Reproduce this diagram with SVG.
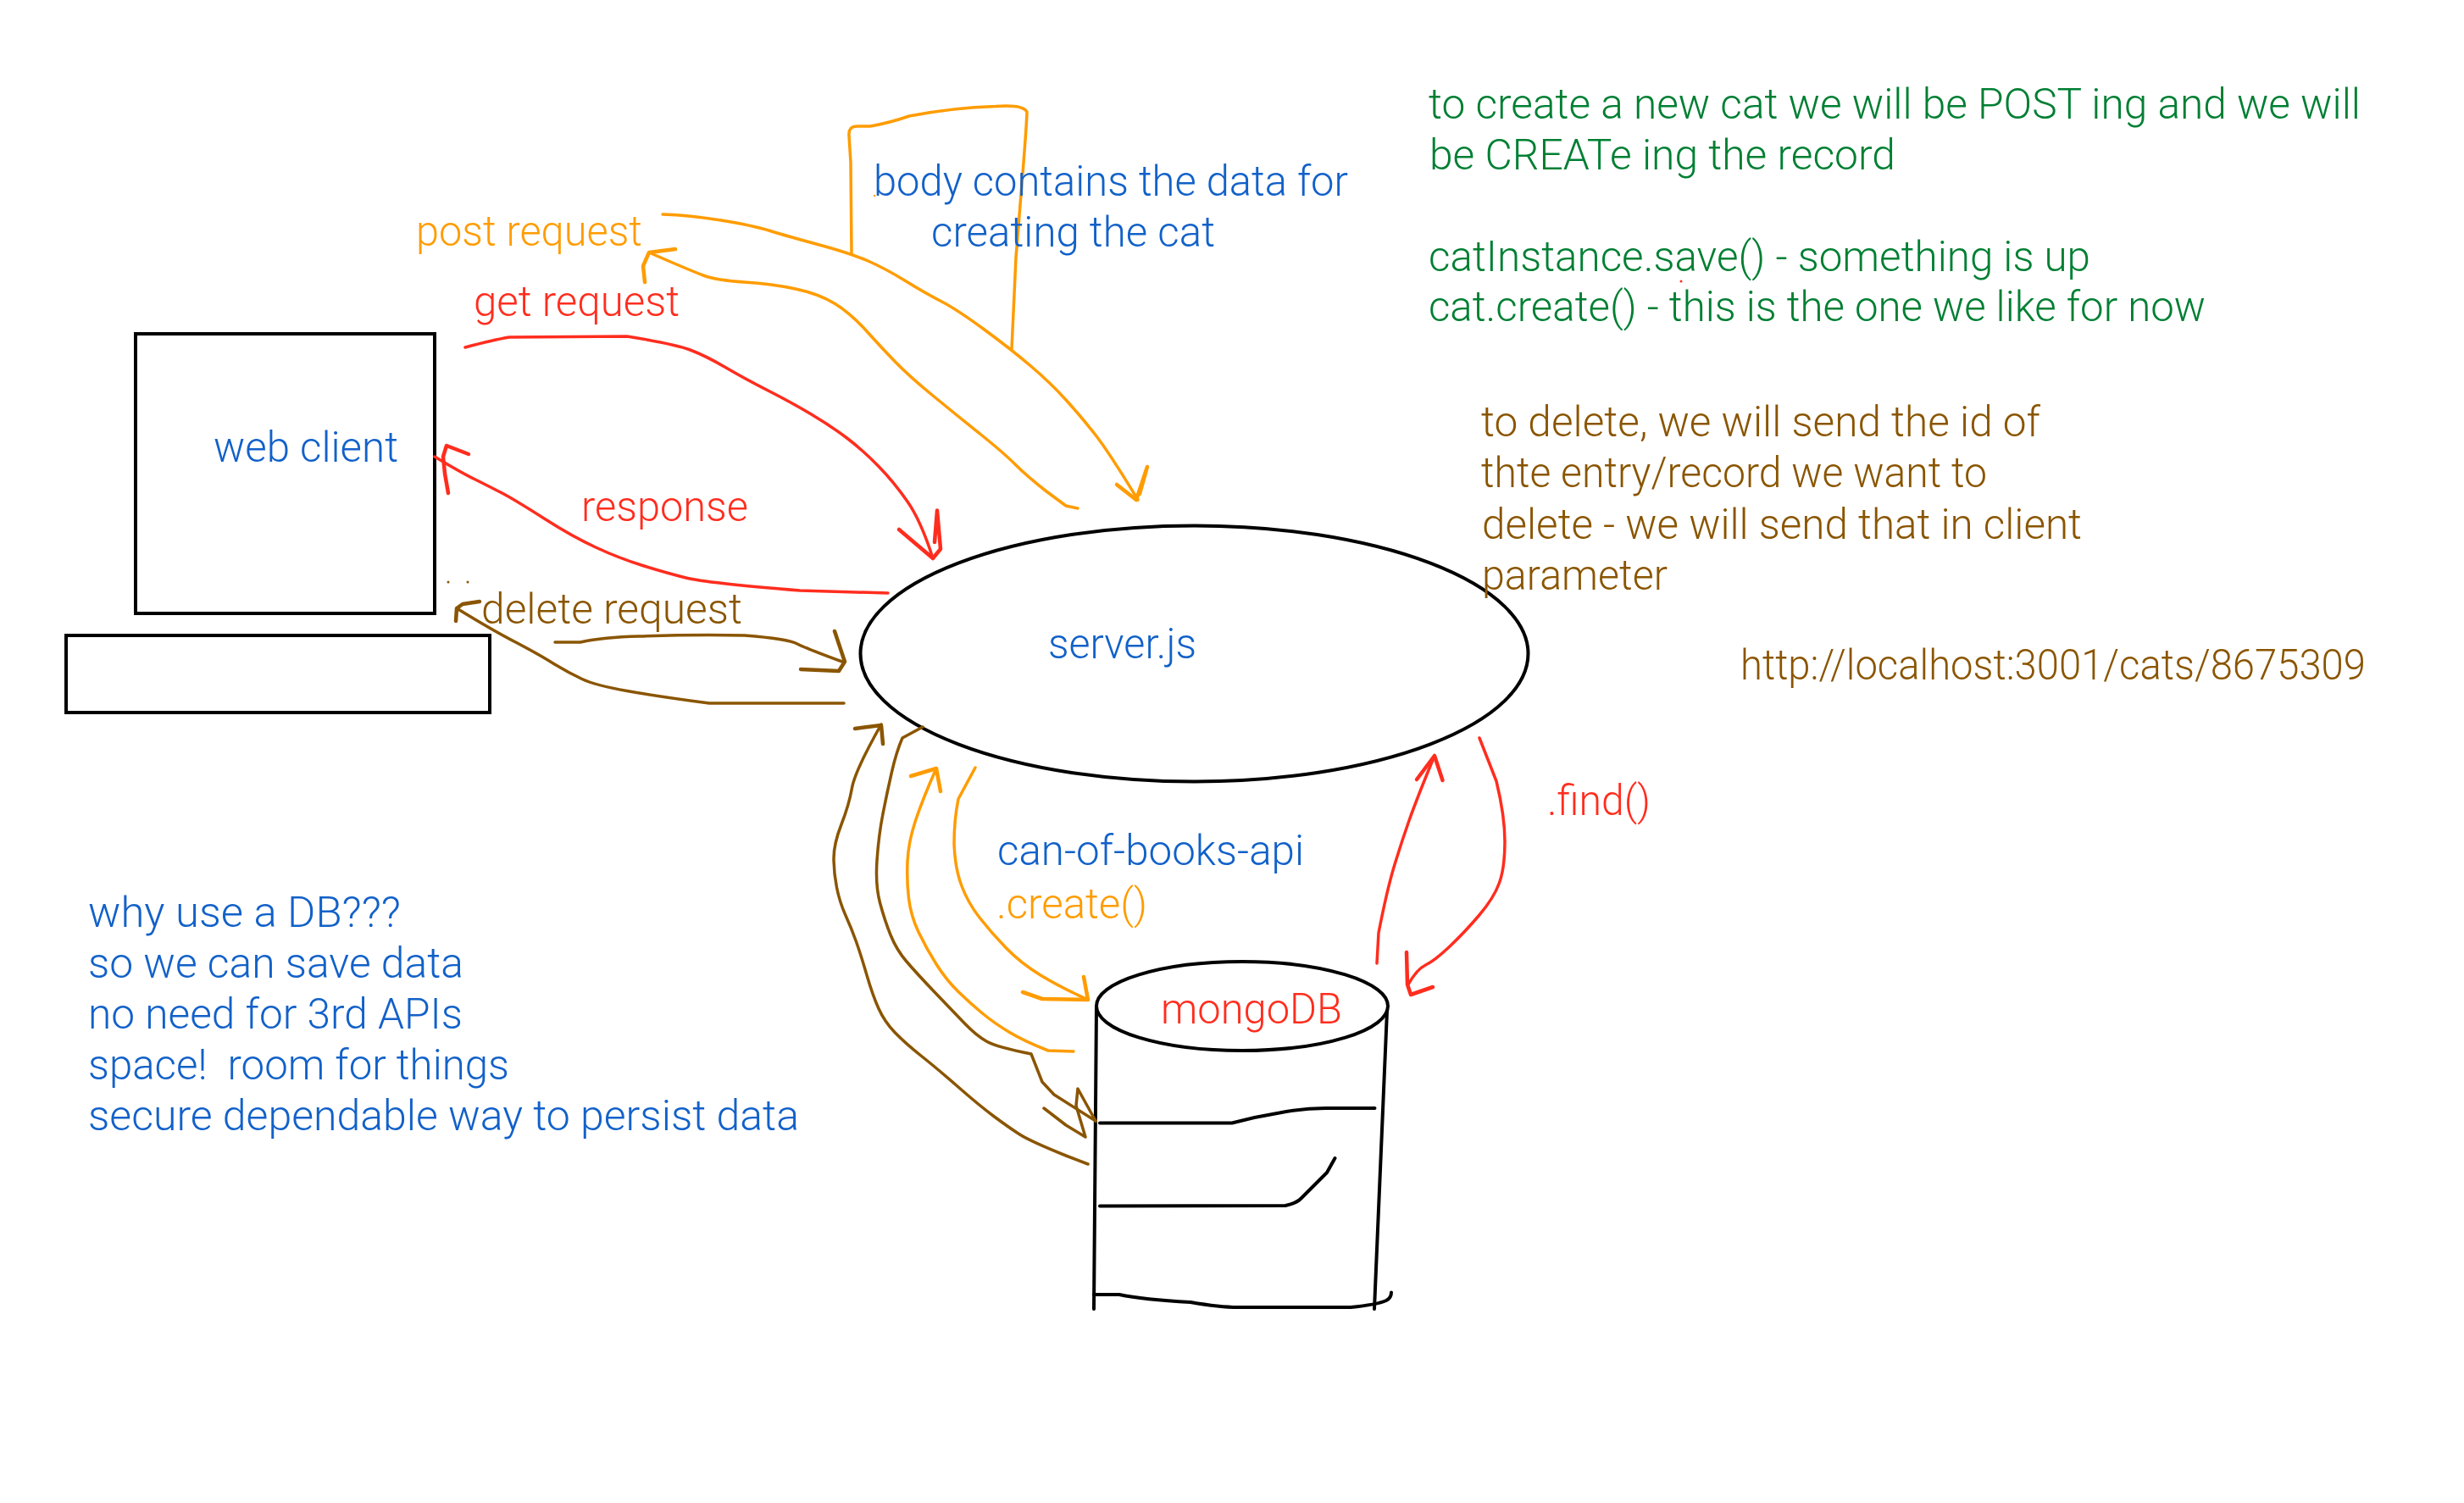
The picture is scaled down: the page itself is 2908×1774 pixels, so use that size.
<svg xmlns="http://www.w3.org/2000/svg" width="2908" height="1774" viewBox="0 0 2908 1774">
<style>
text{font-family:Roboto,"Liberation Sans",Arial,sans-serif;font-weight:300;font-size:50px}
.blue{fill:#1261c9}.orange{fill:#ff9c00}.red{fill:#ff2d1e}.green{fill:#007f33}.brown{fill:#8a5500}
.box{fill:none;stroke:#000;stroke-width:4}
.ink{fill:none;stroke:#000;stroke-width:4;stroke-linecap:round;stroke-linejoin:round}
.c path{fill:none;stroke-width:3.5;stroke-linecap:round;stroke-linejoin:round}
.c path.h{stroke-width:4.5}
.so{stroke:#ff9c00}.sr{stroke:#ff2d1e}.sb{stroke:#8a5500}
</style>
<rect width="2908" height="1774" fill="#fff"/>
<g id="web-client">
<rect class="box" x="160" y="394" width="353" height="330"/>
<rect class="box" x="78" y="750" width="500" height="91"/>
<text class="blue" x="252" y="545" textLength="218" lengthAdjust="spacingAndGlyphs">web client</text>
</g>
<g id="server">
<ellipse class="box" cx="1409.5" cy="771.5" rx="394" ry="151"/>
<text class="blue" x="1237" y="777" textLength="175" lengthAdjust="spacingAndGlyphs">server.js</text>
</g>
<g id="mongodb">
<ellipse class="ink" cx="1466" cy="1187.5" rx="172" ry="52.5"/>
<path class="ink" d="M1294 1188L1291 1545"/>
<path class="ink" d="M1637 1193L1622 1545"/>
<path class="ink" d="M1298 1325.5L1454 1325.5Q1482 1318 1510 1313.5Q1538 1308 1565 1308L1622.5 1308"/>
<path class="ink" d="M1298 1423.5L1517 1423Q1530 1420 1535 1415L1566 1384L1575.5 1367"/>
<path class="ink" d="M1291 1528L1321 1528Q1349 1534 1405 1537Q1440 1543 1461 1543L1594 1543Q1625 1540 1636 1535Q1642 1532 1642 1525.5"/>
<text class="red" x="1370" y="1208" textLength="214" lengthAdjust="spacingAndGlyphs">mongoDB</text>
</g>
<g id="connectors" class="c">
<path class="so" d="M782 253Q814 254 851 260Q888 266 909 272.5Q930 279 967 289Q1004 299 1024.5 308Q1045 317 1068.5 331.5Q1092 346 1110.5 355.5Q1129 365 1161 388.5Q1193 412 1216.5 432Q1240 452 1258.5 472.5Q1277 493 1293 513.5Q1309 534 1343 590"/>
<path class="so h" d="M1318 572L1341 590L1354 551L1345 583"/>
<path class="so" d="M1005 298L1004 192L1002 160Q1001 149 1012 149L1027 149Q1050 145 1073 137Q1125 127 1175 125.5Q1207 123 1212 132Q1212 140 1208 192L1199 304L1194 412"/>
<path class="so" d="M1272 600L1258 597L1235 580Q1212 562 1198 548Q1184 534 1156.5 512Q1129 490 1101 467Q1073 444 1057 427.5Q1041 411 1022.5 390.5Q1004 370 985.5 358.5Q967 347 939 341Q911 335 878.5 333Q846 331 830 325Q814 319 766 298"/>
<path class="so h" d="M797 294L766 298L759 314L761 333"/>
<path class="sr" d="M549 410Q583 401 601 398L740 397Q796 406 814.5 413Q833 420 856 433.5Q879 447 906.5 461Q934 475 957.5 489Q981 503 999.5 517Q1018 531 1036.5 550Q1055 569 1071 592Q1087 615 1101 659"/>
<path class="sr h" d="M1061 625L1101 659L1110 648L1106 602.5L1103 640"/>
<path class="sr" d="M1048 700L944 697Q833 688 809.5 682Q786 676 758.5 667.5Q731 659 703 646Q675 633 643 612.5Q611 592 594.5 583Q578 574.5 562 566.5Q546 559 513 539"/>
<path class="sr h" d="M529 582L525 559L523 539L527 526L553 536"/>
<path class="sb" d="M655 758L685 758Q712 752 754 751Q796 749.5 837 749.5L879 750Q930 754 941 760Q953 766 994 781"/>
<path class="sb h" d="M985 745L997 781L990 792L945 790"/>
<path class="sb" d="M996 830L837 830Q777 822 740 815.5Q703 809 687 801.5Q671 794 654.5 784Q638 773.5 610.5 759Q583 745 539 718"/>
<path class="sb h" d="M566 710L546 713L539 718L538 733"/>
<path class="sb" d="M1284 1374L1258 1364Q1216 1347 1203.5 1339Q1191 1331 1173.5 1318Q1156 1305 1131.5 1283.5Q1107 1262 1087.5 1246.5Q1068 1231 1056 1218.5Q1044 1206 1037 1190.5Q1030 1175 1023 1151Q1016 1127 1010.5 1111.5Q1005 1096 998 1080.5Q991 1065 987.5 1047.5Q984 1030 984 1013Q984 996 993 973Q1002 950 1005.5 930Q1009 910 1040 855"/>
<path class="sb h" d="M1009 860L1040 856L1042 878"/>
<path class="sb" d="M1089 858L1065 871Q1058 887 1052.5 911Q1047 935 1042 960.5Q1037 986 1035 1015.5Q1033 1045 1038.5 1065.5Q1044 1086 1051 1103.5Q1058 1121 1070 1135Q1082 1149 1103 1171Q1124 1193 1138.5 1208Q1153 1223 1165 1229.5Q1177 1236 1217 1244L1230 1277L1244 1292L1293 1323"/>
<path class="sb" d="M1293 1323L1272 1285L1270 1305L1281 1342L1258 1328L1232 1308"/>
<path class="so" d="M1267 1241L1237 1240Q1209 1229 1191.5 1218.5Q1174 1208 1160 1196.5Q1146 1185 1131.5 1171Q1117 1157 1105 1138Q1093 1119 1084 1100Q1075 1081 1072.5 1060.5Q1070 1040 1071 1017Q1072 994 1080.5 968.5Q1089 943 1105 907"/>
<path class="so h" d="M1075 916L1105 907L1110 934"/>
<path class="so" d="M1151 906L1131 943Q1126 968 1126 996Q1127 1024 1134.5 1044.5Q1142 1065 1156 1083Q1170 1101 1187.5 1119Q1205 1137 1228 1151Q1251 1165 1284 1180"/>
<path class="so h" d="M1207 1171L1230 1179L1284 1180L1279 1153"/>
<path class="sr" d="M1625 1137L1627 1101Q1637 1050 1645.5 1022Q1654 994 1663 968.5Q1672 943 1693 892"/>
<path class="sr h" d="M1672 920L1693 892L1702.5 921"/>
<path class="sr" d="M1746 871L1766 922Q1776 963 1776 993.5Q1776 1024 1769.5 1042Q1763 1060 1745.5 1080.5Q1728 1101 1710.5 1117.5Q1693 1134 1682.5 1139Q1672 1144 1662 1162"/>
<path class="sr h" d="M1660 1124L1661 1162L1665 1174L1691 1165"/>
</g>
<g id="marks">
<circle cx="529" cy="687" r="1.5" fill="#8a5500"/>
<circle cx="552" cy="687" r="1.5" fill="#8a5500"/>
<circle cx="1032" cy="231" r="1.2" fill="#ff9c00"/>
<circle cx="1984" cy="332" r="1.5" fill="#ff2d1e"/>
</g>
<g id="labels" transform="translate(-1 2)">
<text class="blue" x="1032" y="229" textLength="560" lengthAdjust="spacingAndGlyphs">body contains the data for</text>
<text class="blue" x="1100" y="289" textLength="335" lengthAdjust="spacingAndGlyphs">creating the cat</text>
<text class="orange" x="492" y="288" textLength="267" lengthAdjust="spacingAndGlyphs">post request</text>
<text class="red" x="560" y="371" textLength="243" lengthAdjust="spacingAndGlyphs">get request</text>
<text class="red" x="687" y="613" textLength="197" lengthAdjust="spacingAndGlyphs">response</text>
<text class="brown" x="569" y="734" textLength="308" lengthAdjust="spacingAndGlyphs">delete request</text>
<text class="blue" x="1178" y="1019" textLength="362" lengthAdjust="spacingAndGlyphs">can-of-books-api</text>
<text class="orange" x="1177" y="1082" textLength="178" lengthAdjust="spacingAndGlyphs">.create()</text>
<text class="red" x="1827" y="960" textLength="122" lengthAdjust="spacingAndGlyphs">.find()</text>
</g>
<g id="notes" transform="translate(0 2)">
<text class="blue" x="104" y="1092" textLength="369" lengthAdjust="spacingAndGlyphs">why use a DB???</text>
<text class="blue" x="104" y="1152" textLength="443" lengthAdjust="spacingAndGlyphs">so we can save data</text>
<text class="blue" x="104" y="1212" textLength="442" lengthAdjust="spacingAndGlyphs">no need for 3rd APIs</text>
<text class="blue" x="104" y="1272" textLength="497" lengthAdjust="spacingAndGlyphs" xml:space="preserve">space!  room for things</text>
<text class="blue" x="104" y="1332" textLength="839" lengthAdjust="spacingAndGlyphs">secure dependable way to persist data</text>
<text class="green" x="1686" y="138" textLength="1100" lengthAdjust="spacingAndGlyphs">to create a new cat we will be POST ing and we will</text>
<text class="green" x="1687" y="198" textLength="550" lengthAdjust="spacingAndGlyphs">be CREATe ing the record</text>
<text class="green" x="1686" y="318" textLength="781" lengthAdjust="spacingAndGlyphs">catInstance.save() - something is up</text>
<text class="green" x="1686" y="377" textLength="917" lengthAdjust="spacingAndGlyphs">cat.create() - this is the one we like for now</text>
<text class="brown" x="1748" y="513" textLength="660" lengthAdjust="spacingAndGlyphs">to delete, we will send the id of</text>
<text class="brown" x="1748" y="573" textLength="597" lengthAdjust="spacingAndGlyphs">thte entry/record we want to</text>
<text class="brown" x="1749" y="634" textLength="708" lengthAdjust="spacingAndGlyphs">delete - we will send that in client</text>
<text class="brown" x="1749" y="694" textLength="219" lengthAdjust="spacingAndGlyphs">parameter</text>
<text class="brown" x="2054" y="800" textLength="738" lengthAdjust="spacingAndGlyphs">http://localhost:3001/cats/8675309</text>
</g>
</svg>
